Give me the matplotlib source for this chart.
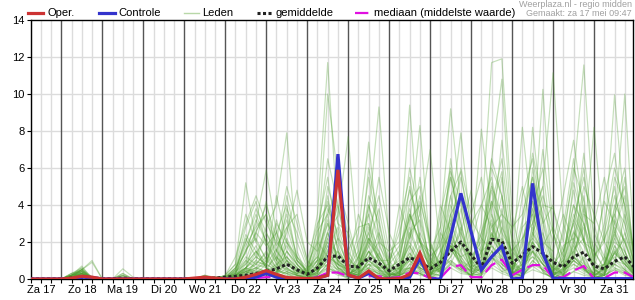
import numpy as np
import matplotlib
matplotlib.use('Agg')
import matplotlib.pyplot as plt
from matplotlib.lines import Line2D

plt.rcParams['font.family'] = ['Liberation Sans', 'DejaVu Sans']

# tijdstappen van 6 uur, vanaf za 17 06:00 (in dagen sinds za 17 00:00)
tijd = 0.25 + 0.25 * np.arange(60)
dagen = ['Za 17', 'Zo 18', 'Ma 19', 'Di 20', 'Wo 21', 'Do 22', 'Vr 23', 'Za 24',
         'Zo 25', 'Ma 26', 'Di 27', 'Wo 28', 'Do 29', 'Vr 30', 'Za 31']

# neerslag (mm) per 6 uur
oper = [0, 0, 0,  0, .05, .15, .1,  0, 0, 0, 0,  0, 0, 0, 0,  0, .05, .1, .05,
        0, 0, .1, .25,  .45, .25, .08, .05,  .02, .05, .2, 5.9,  .22, .05, .43, .02,
        0, .02, .25, 1.4,  0]
controle = [0, 0, 0,  0, 0, .1, .08,  0, 0, 0, 0,  0, 0, 0, 0,  0, 0, .05, 0,
            0, 0, 0, .1,  .3, .1, 0, 0,  0, .05, .2, 6.75,  .2, .05, .3, 0,
            0, 0, .1, 1.1,  0, 0, 2.3, 4.63,  2.55, .49, 1.2, 1.78,  0, .05, 5.17, 1.4,
            .04, .02, .02, .02,  .02, .02, .02, .02, .02]
gemiddelde = [.01, .01, .01,  .01, .05, .1, .06,  .01, .02, .05, .01,  .01, .01, .01, .01,
              .01, .02, .05, .05,  .1, .15, .2, .3,  .4, .55, .8, .5,  .25, .6, 1.2, 1.25,
              .7, .65, 1.15, .85,  .45, .8, 1.15, .95,  .55, .9, 1.5, 2.0,  1.3, .6, 2.15, 2.05,
              .85, 1.3, 1.75, 1.4,  .9, .65, 1.2, 1.45,  .7, .55, .95, 1.2, .6]
mediaan = [0, 0, 0,  0, 0, 0, 0,  0, 0, 0, 0,  0, 0, 0, 0,  0, 0, 0, 0,
           0, 0, 0, .05,  .1, .1, .05, .03,  .02, .1, .35, .35,  .15, .1, .15, .15,
           .05, .1, .35, .3,  .05, .05, .65, .75,  .1, .1, .75, 1.05,  .2, .5, .75, .75,
           .05, .1, .45, .7,  .02, .05, .35, .35, .05]

leden = [
    [0,0,0, 0,.1,.3,0, 0,0,0,0, 0,0,0,0, 0,0,.1,0, .2,.8,5.2,2.0, 1.1,.5,.3,0, 0,.4,1.8,.6, .2,0,1.2,2.5, .5,0,.8,1.5, .3,.2,2.8,1.0, 0,1.5,3.2,.8, .2,0,1.5,.4, 0,.5,2.0,.6, 0,.2,1.4,2.2,.4],
    [0,0,0, 0,.2,.5,.1, 0,0,0,0, 0,0,0,0, 0,0,0,.1, 0,.3,1.5,3.0, 5.9,2.5,1.0,.2, 0,.8,2.2,1.0, .4,.2,.6,1.4, .3,.1,3.5,2.0, .6,1.0,4.5,2.2, .4,.3,2.0,5.5, 1.0,.2,.8,2.5, .3,0,.4,1.2, .2,0,.8,3.5,1.0],
    [0,0,0, 0,.3,.6,0, 0,0,0,0, 0,0,0,0, 0,0,.2,0, 0,.5,2.2,1.2, 2.8,4.0,7.9,1.5, .2,1.0,3.5,.8, 0,.5,2.8,1.0, 0,.4,1.2,.5, .2,.8,1.5,3.8, 1.2,.5,2.4,1.8, .3,2.2,3.8,1.0, .2,.6,2.6,1.4, 0,.3,1.8,.6,.2],
    [0,0,0, 0,.1,.5,.9, 0,0,.3,0, 0,0,0,0, 0,0,0,0, .1,.4,.8,1.5, .6,1.2,.5,.3, .5,3.5,11.7,3.0, 1.5,.5,2.0,1.0, .2,.3,1.6,4.2, 2.0,.5,1.8,1.2, .3,.2,3.5,2.0, .4,.1,1.0,.5, 0,.2,1.4,2.8, .6,0,1.0,.8,.1],
    [0,0,0, 0,0,.2,0, 0,0,0,0, 0,0,0,0, 0,0,0,0, 0,.2,1.0,2.6, 3.5,1.8,2.8,1.0, .3,1.6,10.0,5.5, 2.2,.6,1.5,.5, 0,.2,2.5,1.2, .4,1.5,5.5,3.0, .8,1.2,6.0,4.5, .8,0,2.2,1.5, .4,1.2,4.8,2.0, .6,.8,2.5,1.2,.3],
    [0,0,0, 0,.1,.4,0, 0,0,.1,0, 0,0,0,0, 0,0,0,0, 0,0,.6,1.4, 2.2,1.0,.4,.2, 0,.8,2.6,3.4, 7.7,1.2,.5,.3, 0,.6,1.0,.4, 0,2.5,1.6,.8, .2,0,.8,2.2, .5,1.8,4.2,2.0, .3,.8,3.0,.9, 0,.4,2.8,1.5,.2],
    [0,0,0, 0,0,.3,0, 0,0,0,0, 0,0,0,0, 0,0,0,.1, 0,.2,.4,.6, .8,3.2,1.5,.6, .2,.5,1.2,.8, .5,2.5,7.4,2.0, .3,.2,1.0,2.2, 1.0,.3,3.5,4.5, 1.5,.4,1.2,.6, 0,3.0,5.5,3.5, 1.0,.2,1.0,.5, .2,.6,4.0,3.0,.5],
    [0,0,0, 0,.2,.3,0, 0,0,0,0, 0,0,0,0, 0,0,0,0, .1,.3,1.2,.8, 1.5,.6,2.2,1.0, .4,.2,.8,1.5, .8,.3,3.5,9.3, 2.0,.5,.6,.3, 0,.8,2.2,.6, .2,1.0,4.2,1.5, .4,.6,1.8,.8, 0,1.5,3.5,2.2, .2,.5,.8,.4,0],
    [0,0,0, 0,.1,.2,0, 0,0,.55,.1, 0,0,0,0, 0,0,0,0, 0,.1,.3,.5, 1.0,2.0,1.2,.4, .2,.6,2.5,1.2, .3,.2,1.5,.6, .8,1.5,9.4,2.0, .5,.4,1.2,2.8, .6,.2,2.0,3.2, .8,.3,2.5,1.2, .4,0,1.2,3.8, 1.0,.3,2.2,5.5,.8],
    [0,0,0, 0,0,.1,0, 0,0,0,0, 0,0,0,0, 0,0,.1,0, 0,0,.2,1.0, 2.5,1.2,.6,.2, 0,.3,1.5,.6, .2,.8,2.0,1.2, .4,.6,3.0,8.3, 1.5,.3,.8,2.0, .5,1.2,5.2,2.5, .2,1.0,1.5,.4, 0,.4,1.0,.6, 0,.2,3.2,2.0,.4],
    [0,0,0, 0,.3,.4,0, 0,0,0,0, 0,0,0,0, 0,0,0,0, .1,.6,2.8,4.2, 1.8,.8,.5,.3, .6,1.2,.6,.3, .2,.4,.8,.2, .1,.8,2.2,3.5, 7.0,1.5,.8,.5, 1.0,.3,1.5,.8, .3,.2,3.0,5.0, .6,1.8,2.2,1.0, .3,1.2,.6,.3,0],
    [0,0,0, 0,.1,.2,0, 0,0,.2,0, 0,0,0,0, 0,0,0,0, 0,.2,.9,1.8, .6,.3,1.5,.8, .2,1.8,4.5,1.5, .3,.2,.6,.4, 0,.3,1.2,.6, .4,2.8,9.2,4.0, .8,2.2,1.5,.6, .4,.3,6.0,2.5, .8,.2,2.0,4.5, .5,.2,1.5,.9,.2],
    [0,0,0, 0,.2,.3,.1, 0,0,0,0, 0,0,0,0, 0,0,0,0, 0,.3,.6,.4, .4,1.5,3.5,1.2, .3,.5,.8,.3, 0,1.2,3.0,1.5, .2,.3,.6,1.8, .6,1.0,3.5,7.9, 2.5,.8,1.2,.4, .6,1.5,2.2,7.0, 2.5,.5,.8,.4, .2,.4,1.0,2.5,.6],
    [0,0,0, 0,.1,.5,0, 0,0,0,0, 0,0,0,0, 0,0,.2,0, 0,.1,.5,2.5, 4.0,2.2,1.0,.5, .3,2.0,1.2,.8, .5,.3,1.8,3.8, 1.0,.2,.4,.8, .3,.6,1.8,1.2, 1.5,8.1,3.5,1.2, .2,.8,1.2,.6, .3,2.8,6.5,2.0, .5,.2,1.8,1.0,.3],
    [0,0,0, 0,0,.2,0, 0,0,0,0, 0,0,0,0, 0,0,0,0, 0,0,.4,.9, .8,.5,.2,.1, 0,.6,2.0,1.4, .6,.2,1.0,.5, .2,1.5,3.8,1.5, .8,.4,2.5,1.0, .6,3.0,11.7,11.9, 3.5,.8,1.6,.8, .2,.5,1.2,.6, 0,.8,2.2,1.0,.2],
    [0,0,0, 0,.2,.6,.1, 0,0,.2,0, 0,0,0,0, 0,0,0,.1, .1,.6,1.4,3.2, 2.0,1.0,4.5,2.0, .6,1.0,3.0,1.8, .4,.2,.8,.6, 0,.4,2.0,1.0, .2,1.2,4.0,2.5, 1.2,2.0,6.5,10.8, 2.0,.6,1.5,.8, .4,.8,5.2,3.0, .4,.6,1.2,.5,0],
    [0,0,0, 0,.1,.2,0, 0,0,0,0, 0,0,0,0, 0,0,0,0, 0,.2,.6,.3, .5,.3,1.0,.4, .1,.4,1.5,2.8, 1.0,.6,2.2,1.0, .3,.2,.5,.3, 0,.5,1.2,2.0, .8,.5,1.8,1.2, .6,8.2,3.0,1.5, .5,1.0,2.5,1.8, .6,2.5,5.0,1.5,.3],
    [0,0,0, 0,.2,.4,0, 0,0,.1,0, 0,0,0,0, 0,0,0,0, 0,.4,1.0,.6, 1.2,.6,2.8,3.5, 1.0,.4,1.0,.5, .2,.8,4.0,2.2, .8,.3,1.2,2.5, 1.2,.4,2.0,.8, .3,.2,1.0,2.8, 1.5,.8,8.2,3.0, .6,.2,1.5,.5, 0,.3,1.5,.8,.2],
    [0,0,0, 0,0,.3,0, 0,0,0,0, 0,0,0,0, 0,0,0,0, 0,.1,.3,.8, 1.4,.6,1.8,.8, .2,.3,2.2,4.0, 1.2,.4,.6,.3, .2,.6,2.8,1.2, .5,.8,3.0,1.5, .6,1.8,4.8,2.2, .8,.5,1.8,10.25, 2.5,.6,1.0,3.5, 1.5,.6,2.6,1.2,.4],
    [0,0,0, 0,.1,.3,0, 0,0,0,0, 0,0,0,0, 0,0,0,0, .1,.2,.6,1.2, .8,2.6,.8,.3, .2,.6,1.6,.6, .4,1.2,2.5,.8, .2,.4,2.2,4.5, 1.6,.6,1.0,.5, .2,.6,2.5,1.0, .5,1.2,3.5,5.0, 11.15,3.0,1.2,.6, .3,.8,3.5,2.0,.3],
    [0,0,0, 0,.2,.5,0, 0,0,0,0, 0,0,0,0, 0,0,.1,0, 0,.3,1.6,2.2, 1.0,.5,.3,.2, .2,1.4,3.0,.9, .6,.3,1.0,.6, .5,.8,1.8,.6, .3,1.0,3.5,1.8, .6,.4,1.2,3.8, 1.0,.5,2.5,1.5, .5,2.5,5.5,11.57, 3.0,.8,2.0,1.5,.2],
    [0,0,0, 0,.1,.2,0, 0,0,0,0, 0,0,0,0, 0,0,0,0, 0,.2,.4,.6, .4,.8,1.2,.6, .3,.5,2.5,1.0, .2,.6,1.2,2.0, 1.5,.4,.6,.3, 0,1.5,2.5,1.2, .5,.8,3.0,1.5, .3,.6,1.2,.8, .4,1.0,3.2,2.0, 8.2,2.0,1.0,.5,.1],
    [0,0,0, 0,.2,.3,0, 0,0,.1,0, 0,0,0,0, 0,0,0,0, 0,.1,.8,1.5, .6,.3,2.0,1.2, .4,1.0,1.2,.4, .3,.2,2.2,1.5, .4,1.2,3.5,2.0, .8,.3,1.8,.6, .5,1.5,2.0,4.5, 1.0,.4,2.8,1.2, .2,.8,1.5,3.0, 1.2,2.0,9.95,3.5,.5],
    [0,0,0, 0,0,.1,0, 0,0,0,0, 0,0,0,0, 0,0,0,0, 0,.2,.5,.3, .8,1.6,.6,.2, .1,.4,1.0,2.2, .6,.4,1.5,.8, .2,.3,2.5,3.2, 1.0,.5,1.5,2.5, .8,.3,1.2,.8, .4,2.0,4.2,1.5, .6,.3,1.8,4.0, 1.5,.5,3.0,10.0,1.0],
    [0,0,0, 0,.2,.4,.1, 0,0,.3,0, 0,0,0,0, 0,0,0,0, .2,.8,3.5,2.0, 4.2,1.5,.8,.4, .3,2.8,5.5,2.0, .8,.5,4.5,3.0, .6,1.0,5.0,2.2, .4,3.5,6.0,2.0, 1.0,2.5,4.0,6.5, 1.8,.6,3.8,6.0, 1.2,.6,2.2,6.8, 2.0,1.0,5.5,4.0,.8],
    [0,0,0, 0,.1,.2,0, 0,0,0,0, 0,0,0,0, 0,0,0,0, 0,0,.2,.5, .3,.2,.6,.3, 0,.2,.8,.5, .2,.1,.5,.3, 0,.2,.6,.4, .2,.5,1.0,.6, .2,.6,1.5,1.0, .3,.2,.8,.5, .2,.4,1.0,.6, .2,.3,.8,.5,.1],
    [0,0,0, 0,.2,.5,1.0, 0,0,.2,0, 0,0,0,0, 0,0,.2,.1, .1,.6,2.0,3.8, 2.5,1.5,3.2,1.2, .6,2.2,6.5,4.0, 1.2,.5,2.5,4.5, 1.5,2.0,6.0,3.5, .8,2.2,5.8,4.2, 2.0,1.5,6.5,4.5, 2.2,1.0,4.5,3.2, .8,1.5,4.0,3.0, 1.0,3.0,6.0,4.0,1.2],
    [0,0,0, 0,.1,.3,0, 0,0,0,0, 0,0,0,0, 0,0,0,0, 0,.1,.2,.4, .5,.3,.8,.4, .2,.3,1.4,.8, .4,.2,1.0,.5, .3,.5,1.4,.8, .3,.6,1.8,1.0, .4,.5,2.2,1.4, .3,.8,2.0,1.0, .4,.2,.8,.5, .2,.5,1.4,.8,.2],
    [0,0,0, 0,0,.2,0, 0,0,0,0, 0,0,0,0, 0,0,0,0, 0,.2,.6,1.0, .7,3.0,2.0,.8, .3,1.0,3.8,2.5, .5,2.0,3.5,1.2, .4,.8,4.2,5.0, 2.0,.6,3.0,5.5, 3.0,4.0,2.8,3.5, .8,4.5,6.5,3.0, 4.0,.8,3.2,5.5, 2.5,1.2,3.8,6.0,.6],
    [0,0,0, 0,.1,.2,0, 0,0,0,0, 0,0,0,0, 0,0,0,0, 0,.1,.4,.2, .3,.6,.4,.2, .1,.3,.6,.4, .2,.6,1.2,.5, .1,.2,.8,.6, .3,.2,.8,.4, .2,.8,1.2,.6, .2,.3,1.0,.5, .2,.6,1.2,.8, .3,.2,.6,.4,.1],
    [0,0,0, 0,.3,.5,0, 0,0,0,0, 0,0,0,0, 0,0,0,0, .2,1.2,3.0,4.5, 3.0,2.0,5.0,3.0, 1.0,3.0,4.0,1.5, .6,1.5,5.5,2.5, 1.0,2.5,4.8,3.0, .5,4.0,2.5,6.0, 3.5,5.5,2.0,7.5, 2.5,5.0,2.5,4.0, 2.0,4.5,7.5,3.5, 3.0,5.5,2.5,4.5,1.0],
    [0,0,0, 0,.1,.2,0, 0,0,0,0, 0,0,0,0, 0,0,0,0, 0,0,.3,.6, .4,.2,1.0,.5, .2,.8,2.0,.8, .3,.6,1.8,.6, .2,.4,1.0,.5, .2,1.0,2.0,.8, .4,.6,2.8,1.5, .6,.3,2.0,1.0, .3,.4,1.8,.9, .2,.6,1.6,1.0,.2],
    [0,0,0, 0,.2,.4,.1, 0,0,.1,0, 0,0,0,0, 0,0,.1,.1, .1,.5,1.8,2.8, 3.5,1.0,2.5,4.8, 2.0,1.5,3.2,1.0, .8,3.5,2.0,5.5, 2.5,1.2,3.5,2.0, 1.5,2.8,5.5,3.0, .8,2.5,5.0,3.5, 2.8,3.5,5.5,2.0, 1.5,3.5,2.0,5.0, 3.5,2.0,4.5,2.5,.8],
    [0,0,0, 0,.1,.3,0, 0,0,0,0, 0,0,0,0, 0,0,0,0, 0,.1,.4,.2, .2,.4,.3,.1, .1,.2,.6,.3, .1,.3,.8,.4, .1,.2,.5,.3, .1,.3,.9,.5, .2,.3,.8,.4, .2,.2,.7,.3, .1,.3,.6,.3, .1,.2,.5,.3,.1],
    [0,0,0, 0,.2,.7,0, 0,0,.1,0, 0,0,0,0, 0,0,0,0, 0,.4,1.5,2.5, 1.8,2.5,4.0,1.0, .5,1.2,5.0,3.0, 2.5,1.0,4.0,1.8, .8,3.0,5.5,2.0, 1.2,1.8,4.5,5.8, 2.0,4.0,5.5,2.5, 1.5,2.2,3.0,4.5, 2.5,1.2,4.0,2.0, 1.5,4.2,3.0,2.0,.6],
    [0,0,0, 0,0,.2,0, 0,0,0,0, 0,0,0,0, 0,0,0,0, 0,.2,.6,1.2, .8,.4,1.2,.6, .3,.6,1.8,1.0, .5,.8,2.2,1.2, .4,.6,1.8,.8, .2,.6,2.2,1.4, .6,1.0,2.5,1.6, .5,.8,2.0,1.2, .6,.5,1.6,2.2, .5,.8,2.4,1.2,.2],
    [0,0,0, 0,.1,.4,0, 0,0,0,0, 0,0,0,0, 0,0,0,0, .1,.3,2.4,1.5, .9,4.5,2.0,1.0, .4,2.6,3.5,5.0, 3.0,.8,6.0,3.2, .6,4.0,2.2,5.5, 1.8,.8,6.5,2.5, 4.8,1.2,3.8,5.8, .8,3.2,6.8,4.0, 3.8,2.0,6.0,4.2, .8,4.5,6.8,3.0,.7],
    [0,0,0, 0,.1,.2,0, 0,0,0,0, 0,0,0,0, 0,0,0,0, 0,.1,.2,.3, .2,.1,.4,.2, .1,.2,.5,.2, .1,.1,.4,.2, .1,.2,.4,.2, .1,.2,.6,.3, .2,.2,.6,.3, .1,.2,.5,.3, .1,.2,.4,.2, .1,.2,.5,.2,.1],
    [0,0,0, 0,.2,.5,0, 0,0,0,0, 0,0,0,0, 0,0,0,0, 0,.5,2.0,3.5, 2.0,.8,3.8,2.5, .8,2.0,4.2,2.2, 1.5,2.8,3.0,1.0, 1.0,1.8,3.2,4.0, .5,2.0,3.2,1.5, 3.2,2.2,4.2,3.0, .6,2.8,3.5,1.8, 2.8,1.5,3.0,6.0, 1.2,2.2,3.5,5.0,.8],
    [0,0,0, 0,.1,.3,0, 0,0,0,0, 0,0,0,0, 0,0,0,0, 0,.1,.5,.8, .6,.4,1.5,.8, .2,.4,1.2,.6, .3,.5,1.5,.8, .2,.4,1.4,.6, .3,.8,1.6,.9, .4,.8,1.8,1.0, .3,.6,1.5,.8, .3,.5,1.2,.6, .3,.5,1.4,.8,.2],
]

for i, lid in enumerate(leden):
    assert len(lid) == 60, (i, len(lid))

W, H = 635, 300
fig = plt.figure(figsize=(W / 100, H / 100), dpi=100)
ax = fig.add_axes([30.6 / W, 1 - 279 / H, (633 - 30.6) / W, (279 - 20) / H])

# raster: licht grijs per 6 uur, donker per dag
for t in np.arange(0.25, 15.0, 0.25):
    if abs(t - round(t)) < 1e-6:
        ax.axvline(t, color='#555555', lw=1.0, zorder=1)
    else:
        ax.axvline(t, color='#dcdcdc', lw=1.0, zorder=0)
for v in range(2, 14, 2):
    ax.axhline(v, color='#dcdcdc', lw=1.0, zorder=0)

for lid in leden:
    ax.plot(tijd, lid, color='#4f9f2f', lw=0.85, alpha=0.33, zorder=2)

ax.plot(tijd, mediaan, color='#e010e0', lw=1.6, dashes=(6, 2.5), zorder=3)
ax.plot(tijd, gemiddelde, color='#222222', lw=2.2, dashes=(1, 0.8), zorder=4)
ax.plot(tijd, controle, color='#3333cc', lw=2.3, zorder=5, solid_joinstyle='miter')
ax.plot(tijd[:len(oper)], oper, color='#cc3333', lw=2.3, zorder=6, solid_joinstyle='miter')

ax.set_xlim(0.25, 14.95)
ax.set_ylim(0, 14)
ax.set_yticks(range(0, 15, 2))
ax.set_xticks(np.arange(15) + 0.5)
ax.set_xticklabels(dagen)
ax.set_xticks(np.arange(0.25, 15.0, 0.25), minor=True)
ax.tick_params(axis='both', labelsize=8, length=3, width=0.8, pad=1.5, colors='black')
ax.tick_params(axis='x', which='minor', length=3, width=0.8)
for s in ax.spines.values():
    s.set_color('black')
    s.set_linewidth(1.0)

# legenda bovenaan
def fx(px):
    return px / W

def fy(px):
    return 1 - px / H

ly = 13
items = [
    (28, 43, 47.5, 'Oper.', dict(color='#cc3333', lw=2.3)),
    (99, 115, 118.5, 'Controle', dict(color='#3333cc', lw=2.3)),
    (184, 199, 202.5, 'Leden', dict(color='#b8d8a8', lw=1.0)),
    (257, 272, 276, 'gemiddelde', dict(color='#222222', lw=2.2, dashes=(1, 0.8))),
    (355, 370, 374, 'mediaan (middelste waarde)', dict(color='#e010e0', lw=1.6, dashes=(6, 2.5))),
]
for x0, x1, xt, naam, stijl in items:
    fig.add_artist(Line2D([fx(x0), fx(x1)], [fy(ly), fy(ly)], transform=fig.transFigure, **stijl))
    fig.text(fx(xt), fy(ly), naam, fontsize=8, va='center', ha='left')

fig.text(fx(632), fy(4.5), 'Weerplaza.nl - regio midden', fontsize=6.5, color='#a0a0a0',
         ha='right', va='center')
fig.text(fx(632), fy(14), 'Gemaakt: za 17 mei 09:47', fontsize=6.5, color='#a0a0a0',
         ha='right', va='center')

fig.savefig('out.png', dpi=100)
